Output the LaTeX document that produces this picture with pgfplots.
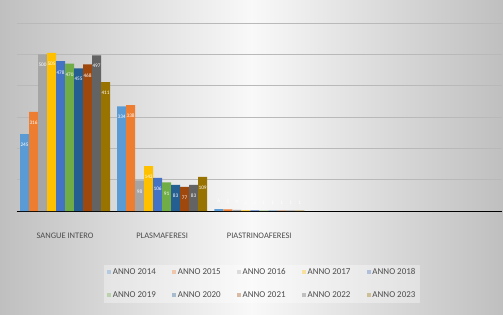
\documentclass[border=0pt]{standalone}
\usepackage{fontspec}
\setmainfont{Carlito}
\usepackage{pgfplots}
\usepackage{pgfplotstable}
\pgfplotsset{compat=1.18}
\definecolor{c14}{HTML}{5B9BD5}
\definecolor{c15}{HTML}{ED7D31}
\definecolor{c16}{HTML}{A5A5A5}
\definecolor{c17}{HTML}{FFC000}
\definecolor{c18}{HTML}{4472C4}
\definecolor{c19}{HTML}{70AD47}
\definecolor{c20}{HTML}{255E91}
\definecolor{c21}{HTML}{9E480E}
\definecolor{c22}{HTML}{636363}
\definecolor{c23}{HTML}{997300}
\pgfplotstableread{
x y s
0 245 -9
1 334 -9
2 6 10
}\dA
\pgfplotstableread{
x y s
0 316 -9
1 338 -9
2 5 10
}\dB
\pgfplotstableread{
x y s
0 500 -9
1 98 -9
2 4 10
}\dC
\pgfplotstableread{
x y s
0 505 -9
1 143 -9
2 2 10
}\dD
\pgfplotstableread{
x y s
0 478 -9
1 106 -9
2 2 10
}\dE
\pgfplotstableread{
x y s
0 470 -9
1 91 -9
2 1 10
}\dF
\pgfplotstableread{
x y s
0 455 -9
1 83 -9
2 1 10
}\dG
\pgfplotstableread{
x y s
0 468 -9
1 77 -9
2 1 10
}\dH
\pgfplotstableread{
x y s
0 497 -9
1 83 -9
2 1 10
}\dI
\pgfplotstableread{
x y s
0 411 -9
1 109 -9
2 1 10
}\dJ
\begin{document}
\begin{tikzpicture}[x=1bp,y=1bp]
\useasboundingbox (0,0) rectangle (503,314);
\shade[left color=gray!50, right color=gray!50, middle color=gray!5] (0,0) rectangle (503,314);
\begin{axis}[
  at={(16.5bp,103bp)}, anchor=south west,
  scale only axis, width=485.5bp, height=188bp,
  xmin=-0.5, xmax=4.5, ymin=0, ymax=600,
  ybar=0pt, bar width=9bp,
  xtick={0,1,2},
  xticklabels={SANGUE INTERO, PLASMAFERESI, PIASTRINOAFERESI},
  xticklabel style={font=\fontsize{8.5}{9}\selectfont, text=black!70, yshift=-14bp},
  ytick={0,100,...,600}, yticklabels={},
  ymajorgrids, grid style={gray!55, line width=0.9pt},
  axis x line*=bottom, axis y line*=left,
  x axis line style={black, line width=1pt},
  y axis line style={draw=none},
  xtick style={draw=none}, ytick style={draw=none},
  every axis plot/.append style={draw=none},
  /pgf/number format/assume math mode=true,
  nodes near coords,
  visualization depends on={\thisrow{s} \as \sh},
  nodes near coords style={anchor=north, yshift=\sh, inner sep=0pt, font=\fontsize{5.3}{6}\selectfont, text=white},
  legend style={at={(0.506,-0.386)}, anchor=center, legend columns=5, draw=none,
    fill=white, fill opacity=0.35, text opacity=1,
    font=\fontsize{9}{10}\selectfont, text=black!70,
    /tikz/every even column/.append style={column sep=14bp},
    row sep=11bp},
  legend image code/.code={\fill[#1] (0bp,-2bp) rectangle (4bp,2bp);},
]
\addplot[fill=c14] table[x=x,y=y] {\dA};
\addplot[fill=c15] table[x=x,y=y] {\dB};
\addplot[fill=c16] table[x=x,y=y] {\dC};
\addplot[fill=c17] table[x=x,y=y] {\dD};
\addplot[fill=c18] table[x=x,y=y] {\dE};
\addplot[fill=c19] table[x=x,y=y] {\dF};
\addplot[fill=c20] table[x=x,y=y] {\dG};
\addplot[fill=c21] table[x=x,y=y] {\dH};
\addplot[fill=c22] table[x=x,y=y] {\dI};
\addplot[fill=c23] table[x=x,y=y] {\dJ};
\legend{ANNO 2014, ANNO 2015, ANNO 2016, ANNO 2017, ANNO 2018, ANNO 2019, ANNO 2020, ANNO 2021, ANNO 2022, ANNO 2023}
\end{axis}
\end{tikzpicture}
\end{document}
